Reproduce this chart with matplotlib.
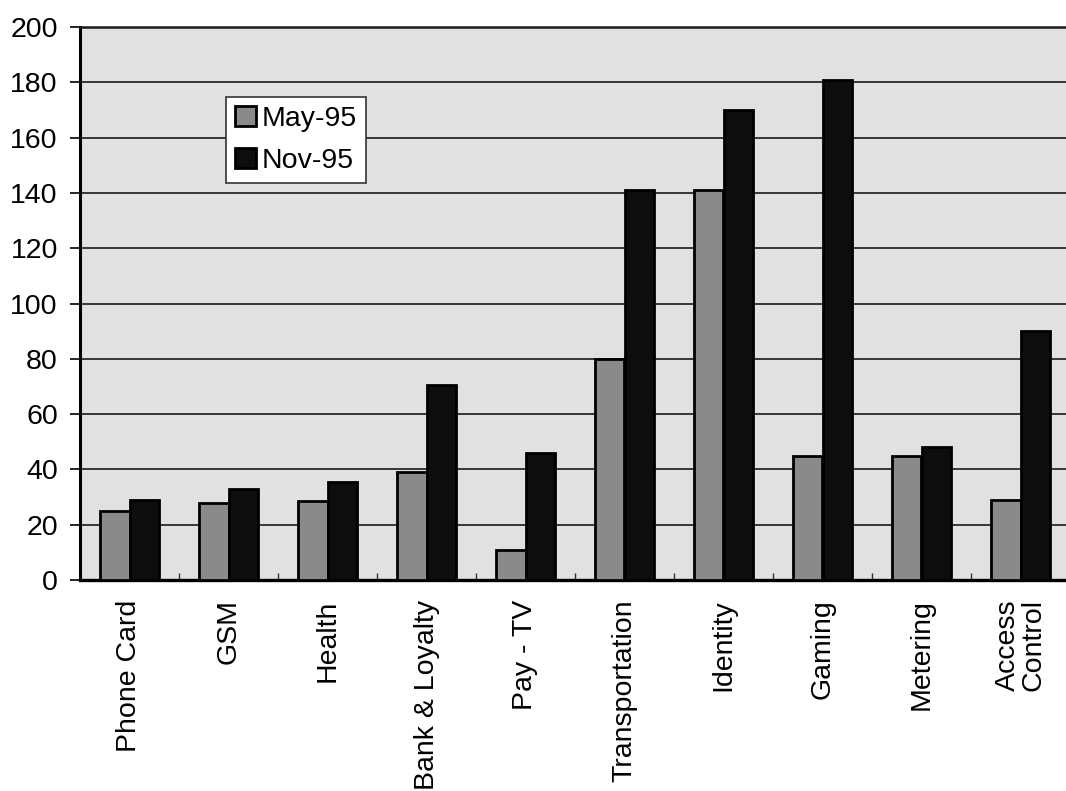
import matplotlib
matplotlib.use("Agg")
import matplotlib.pyplot as plt
import numpy as np

plt.rcParams['font.family'] = ['Liberation Sans', 'DejaVu Sans']

categories = ["Phone Card", "GSM", "Health", "Bank & Loyalty", "Pay - TV",
              "Transportation", "Identity", "Gaming", "Metering", "Access\nControl"]
may_95 = [25, 28, 28.5, 39, 11, 80, 141, 45, 45, 29]
nov_95 = [29, 33, 35.5, 70.5, 46, 141, 170, 181, 48, 90]
series_labels = ["May-95", "Nov-95"]
y_ticks = [0, 20, 40, 60, 80, 100, 120, 140, 160, 180, 200]

W, H = 1066, 791
fig = plt.figure(figsize=(W / 100, H / 100), dpi=100)
fig.patch.set_facecolor("white")
ax = fig.add_axes([80 / W, 1 - 580 / H, 990 / W, 553 / H])
ax.set_facecolor("#e1e1e1")

x = np.arange(len(categories))
bw = 0.30
ax.bar(x - bw / 2, may_95, width=bw, color="#8a8a8a", edgecolor="black",
       linewidth=2.0, label=series_labels[0], zorder=3)
ax.bar(x + bw / 2, nov_95, width=bw, color="#0d0d0d", edgecolor="black",
       linewidth=2.0, label=series_labels[1], zorder=3)

ax.set_xlim(-0.5, len(categories) - 0.5)
ax.set_ylim(0, 200)
ax.set_yticks(y_ticks)
ax.set_yticklabels([str(v) for v in y_ticks])
ax.yaxis.grid(True, color="#2a2a2a", linewidth=1.3, zorder=1)
ax.set_axisbelow(True)

ax.tick_params(axis="y", direction="out", length=7, width=1.2, pad=9,
               labelsize=20.5, colors="black")
ax.set_xticks(x)
ax.set_xticklabels(categories, rotation=90, ha="center", va="top",
                   multialignment="right", fontsize=20.5, linespacing=1.0)
ax.tick_params(axis="x", which="major", length=0, pad=14)
ax.set_xticks(np.arange(0.5, len(categories) - 0.5, 1.0), minor=True)
ax.tick_params(axis="x", which="minor", direction="in", length=5, width=1.0,
               color="#333333")

ax.spines["right"].set_visible(False)
ax.spines["left"].set_linewidth(2.2)
ax.spines["bottom"].set_linewidth(2.4)
ax.spines["top"].set_linewidth(1.8)
ax.spines["top"].set_color("#1a1a1a")

leg = ax.legend(loc="upper left", bbox_to_anchor=(226 / W, 1 - 97 / H),
                bbox_transform=fig.transFigure, borderaxespad=0,
                fontsize=20.5, frameon=True, fancybox=False, framealpha=1,
                edgecolor="#333333", handlelength=0.72, handleheight=0.72,
                handletextpad=0.2, borderpad=0.32, labelspacing=0.55)
leg.get_frame().set_linewidth(1.2)

fig.savefig("out.png", dpi=100)
